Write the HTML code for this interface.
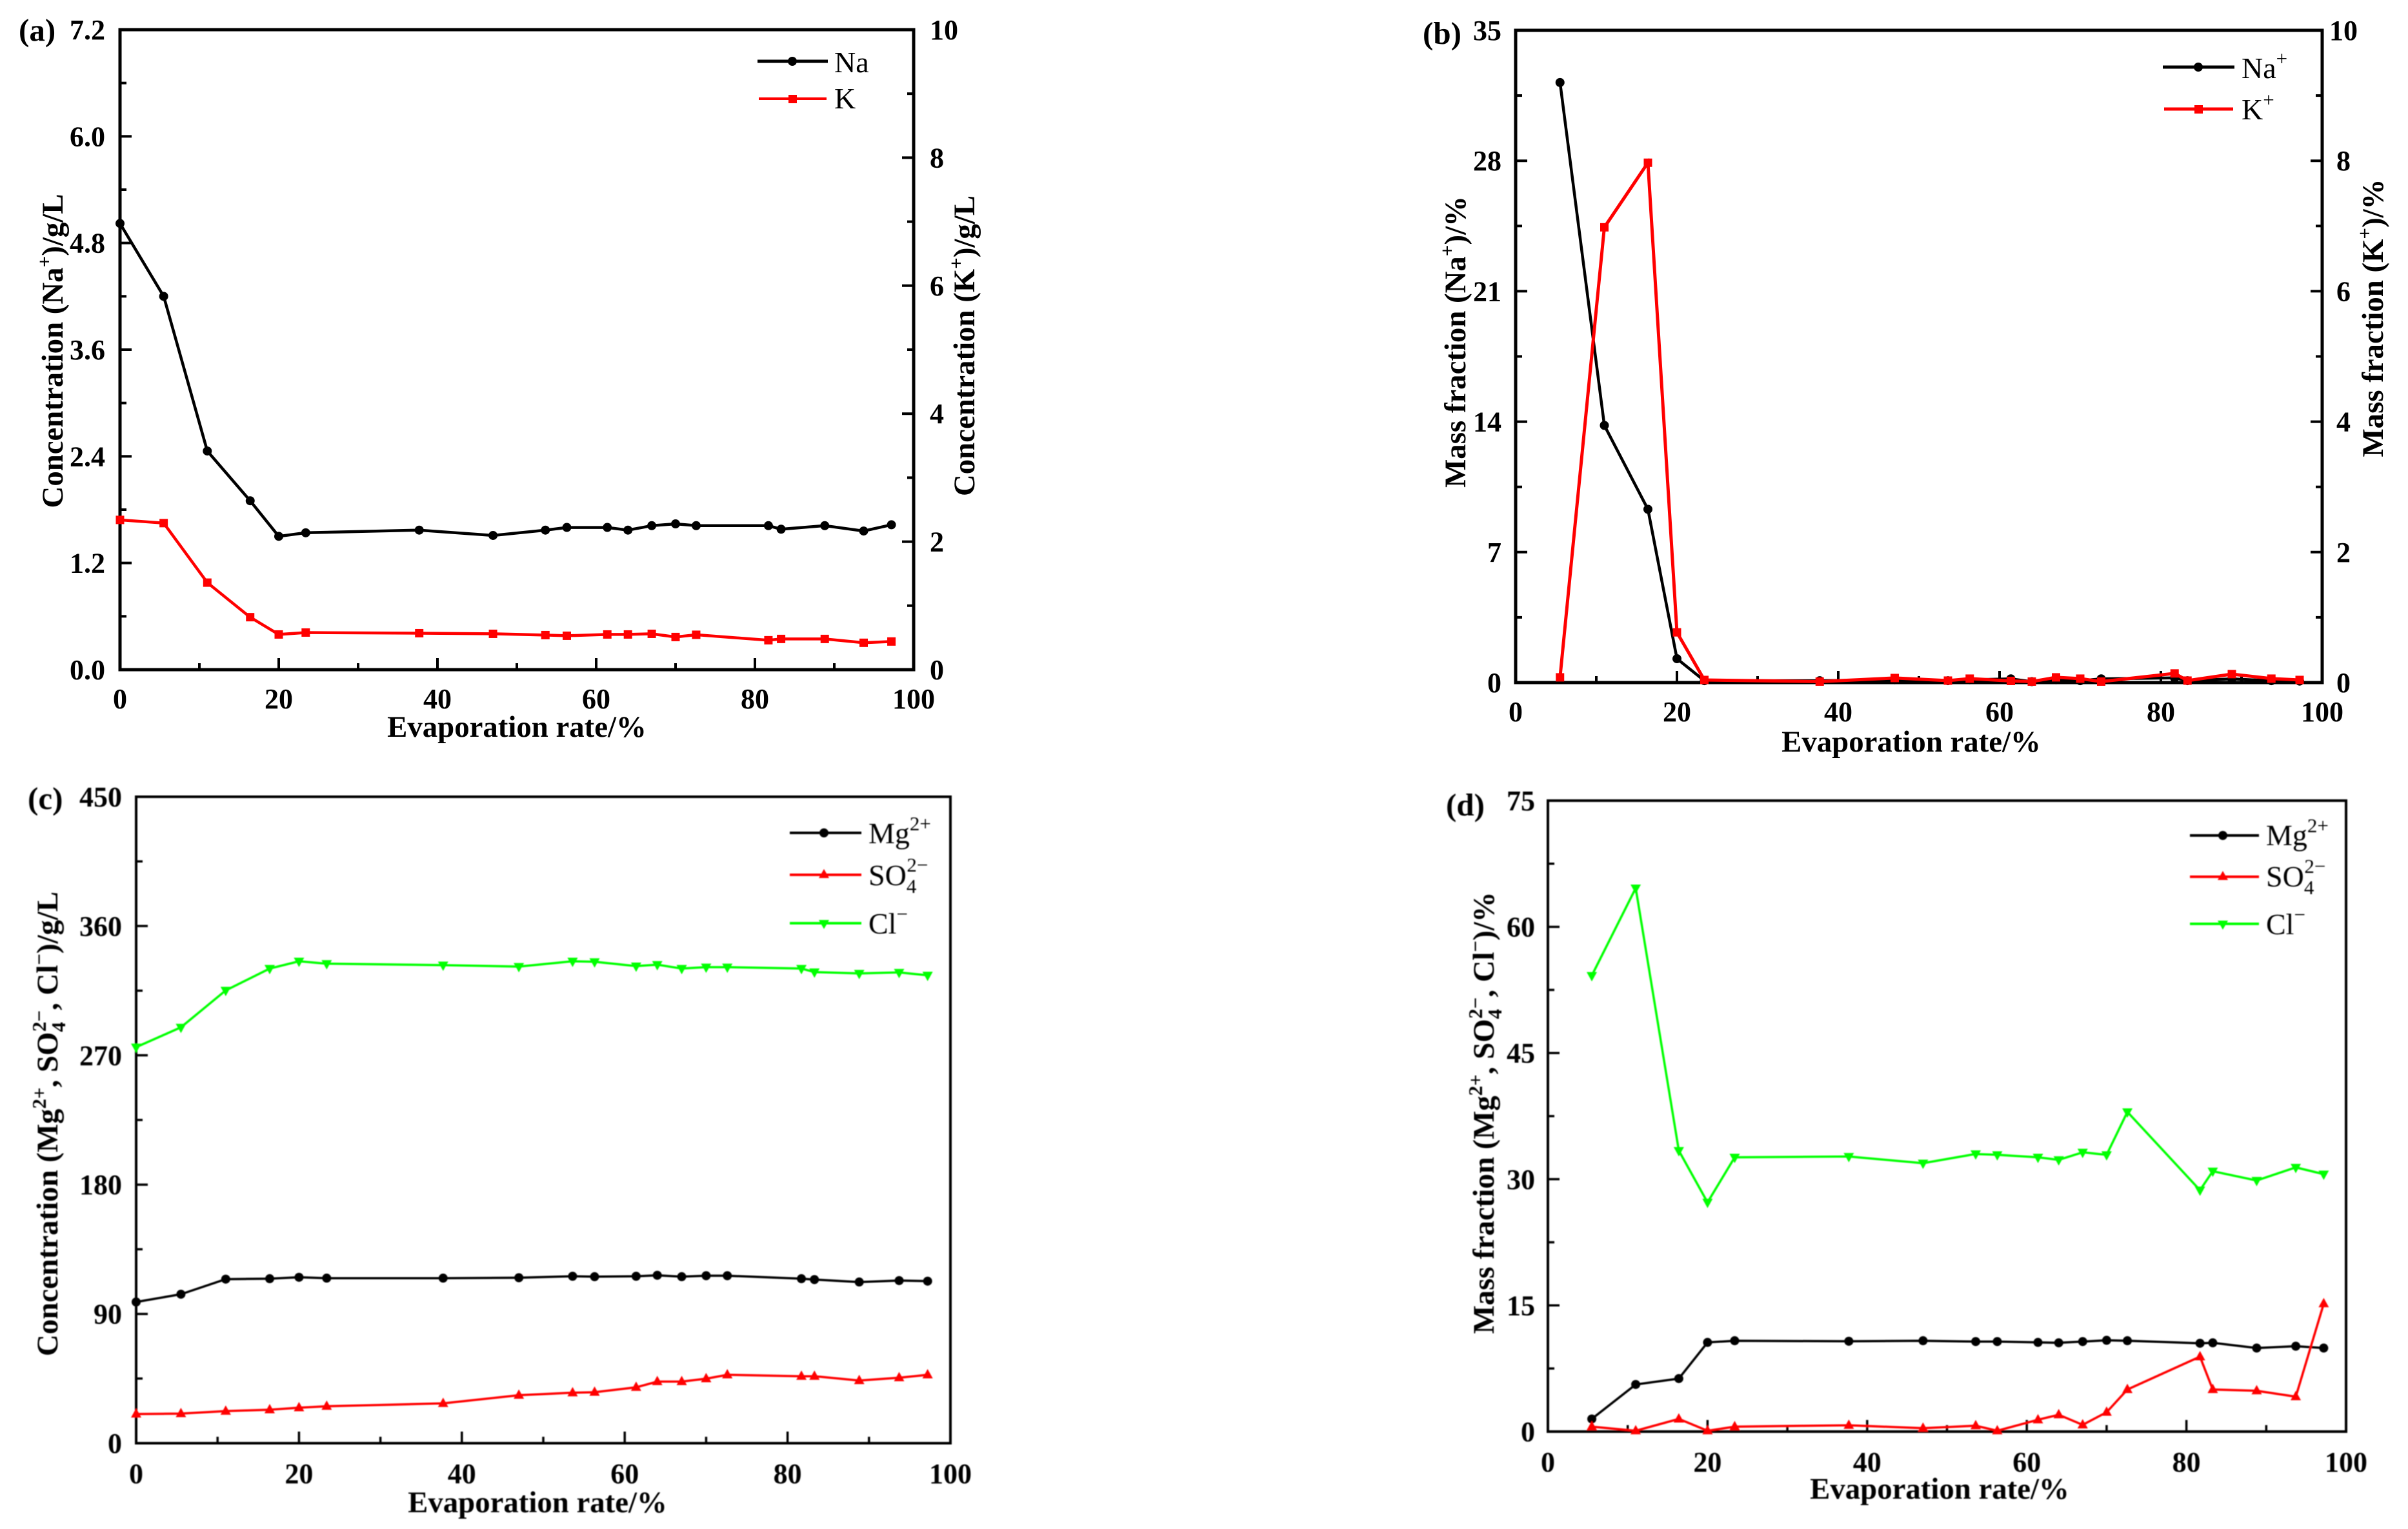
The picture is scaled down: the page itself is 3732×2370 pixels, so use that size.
<!DOCTYPE html>
<html lang="en">
<head>
<meta charset="utf-8">
<title>Evaporation rate charts</title>
<style>
html,body{margin:0;padding:0;background:#fff;}
svg{display:block;font-family:"Liberation Serif",serif;}
.title{font-weight:bold;font-size:46.8px;fill:#000;}
.panel{font-weight:bold;font-size:49px;fill:#000;}
.leg{font-size:46px;fill:#000;}
</style>
</head>
<body>
<svg id="fig" xmlns="http://www.w3.org/2000/svg" width="3732" height="2370" viewBox="0 0 3732 2370">
<defs><filter id="soft" x="-5%" y="-5%" width="110%" height="110%"><feGaussianBlur stdDeviation="0.9"/></filter></defs>
<rect x="0" y="0" width="3732" height="2370" fill="#fff"/>

<g id="panel-a">
<text class="panel" x="29" y="63">(a)</text>
<text class="title" x="801" y="1142" text-anchor="middle">Evaporation rate/%</text>
<text class="title" transform="translate(97,544) rotate(-90)" text-anchor="middle">Concentration (Na<tspan font-size="31" dy="-18">+</tspan><tspan dy="18">)/g/L</tspan></text>
<text class="title" transform="translate(1510,536) rotate(-90)" text-anchor="middle">Concentration (K<tspan font-size="31" dy="-18">+</tspan><tspan dy="18">)/g/L</tspan></text>
<g>
<line x1="1174" x2="1283" y1="95" y2="95" stroke="#000" stroke-width="5"/>
<circle cx="1228" cy="95" r="7" fill="#000"/>
<text class="leg" x="1293" y="112">Na</text>
<line x1="1176" x2="1281" y1="153" y2="153" stroke="#f00" stroke-width="4"/>
<rect x="1222" y="147" width="13" height="13" fill="#f00"/>
<text class="leg" x="1293" y="168">K</text>
</g>
</g>

<g id="panel-b">
<text class="panel" x="2205" y="68">(b)</text>
<text class="title" x="2962" y="1165" text-anchor="middle">Evaporation rate/%</text>
<text class="title" transform="translate(2271,530) rotate(-90)" text-anchor="middle">Mass fraction (Na<tspan font-size="31" dy="-18">+</tspan><tspan dy="18">)/%</tspan></text>
<text class="title" transform="translate(3693,493) rotate(-90)" text-anchor="middle">Mass fraction (K<tspan font-size="31" dy="-18">+</tspan><tspan dy="18">)/%</tspan></text>
<g>
<line x1="3352" x2="3463" y1="104" y2="104" stroke="#000" stroke-width="5"/>
<circle cx="3407" cy="104" r="7" fill="#000"/>
<text class="leg" x="3474" y="121">Na<tspan font-size="31" dy="-20">+</tspan></text>
<line x1="3354" x2="3461" y1="169" y2="169" stroke="#f00" stroke-width="5"/>
<rect x="3401" y="163" width="13" height="13" fill="#f00"/>
<text class="leg" x="3474" y="185">K<tspan font-size="31" dy="-20">+</tspan></text>
</g>
</g>

<g filter="url(#soft)">
<g id="panel-c">
<text class="panel" x="43" y="1254">(c)</text>
<text class="title" x="833" y="2344" text-anchor="middle">Evaporation rate/%</text>
<text class="title" transform="translate(89,1742) rotate(-90)" text-anchor="middle">Concentration (Mg<tspan font-size="31" dy="-18">2+</tspan><tspan dy="18">, SO</tspan><tspan font-size="31" dy="12">4</tspan><tspan font-size="31" dx="-15" dy="-30">2−</tspan><tspan dy="18">, Cl</tspan><tspan font-size="31" dy="-18">−</tspan><tspan dy="18">)/g/L</tspan></text>
<g>
<line x1="1224" x2="1335" y1="1291" y2="1291" stroke="#000" stroke-width="4"/>
<circle cx="1277" cy="1291" r="7" fill="#000"/>
<text class="leg" x="1346" y="1307">Mg<tspan font-size="31" dy="-20">2+</tspan></text>
<line x1="1224" x2="1335" y1="1356" y2="1356" stroke="#f00" stroke-width="4"/>
<polygon points="1277,1347 1285,1361 1269,1361" fill="#f00"/>
<text class="leg" x="1346" y="1372">SO<tspan font-size="31" dy="12">4</tspan><tspan font-size="31" dx="-15" dy="-33">2−</tspan></text>
<line x1="1224" x2="1335" y1="1431" y2="1431" stroke="#0f0" stroke-width="4"/>
<polygon points="1277,1440 1285,1426 1269,1426" fill="#0f0"/>
<text class="leg" x="1346" y="1447">Cl<tspan font-size="31" dy="-20">−</tspan></text>
</g>
</g>

<g id="panel-d">
<text class="panel" x="2241" y="1264">(d)</text>
<text class="title" x="3006" y="2323" text-anchor="middle">Evaporation rate/%</text>
<text class="title" transform="translate(2315,1725) rotate(-90)" text-anchor="middle">Mass fraction (Mg<tspan font-size="31" dy="-18">2+</tspan><tspan dy="18">, SO</tspan><tspan font-size="31" dy="12">4</tspan><tspan font-size="31" dx="-15" dy="-30">2−</tspan><tspan dy="18">, Cl</tspan><tspan font-size="31" dy="-18">−</tspan><tspan dy="18">)/%</tspan></text>
<g>
<line x1="3394" x2="3501" y1="1295" y2="1295" stroke="#000" stroke-width="4"/>
<circle cx="3445" cy="1295" r="7" fill="#000"/>
<text class="leg" x="3512" y="1310">Mg<tspan font-size="31" dy="-20">2+</tspan></text>
<line x1="3394" x2="3501" y1="1359" y2="1359" stroke="#f00" stroke-width="4"/>
<polygon points="3445,1350 3453,1364 3437,1364" fill="#f00"/>
<text class="leg" x="3512" y="1374">SO<tspan font-size="31" dy="12">4</tspan><tspan font-size="31" dx="-15" dy="-33">2−</tspan></text>
<line x1="3394" x2="3501" y1="1432" y2="1432" stroke="#0f0" stroke-width="4"/>
<polygon points="3445,1441 3453,1427 3437,1427" fill="#0f0"/>
<text class="leg" x="3512" y="1448">Cl<tspan font-size="31" dy="-20">−</tspan></text>
</g>
</g>
</g>
</svg>

<script>
// ---- Data ----
const evapRateFull = [0, 5.5, 11, 16.4, 20, 23.4, 37.7, 47, 53.6, 56.3, 61.4, 64, 67, 70, 72.6, 81.7, 83.3, 88.8, 93.7, 97.2];
const evapRateNoZero = [5.5, 11, 16.4, 20, 23.4, 37.7, 47, 53.6, 56.3, 61.4, 64, 67, 70, 72.6, 81.7, 83.3, 88.8, 93.7, 97.2];

const xTickLabels = ['0', '20', '40', '60', '80', '100'];
const aLeftTickLabels = ['0.0', '1.2', '2.4', '3.6', '4.8', '6.0', '7.2'];
const aRightTickLabels = ['0', '2', '4', '6', '8', '10'];
const bLeftTickLabels = ['0', '7', '14', '21', '28', '35'];
const bRightTickLabels = ['0', '2', '4', '6', '8', '10'];
const cTickLabels = ['0', '90', '180', '270', '360', '450'];
const dTickLabels = ['0', '15', '30', '45', '60', '75'];

const aNa = [5.02, 4.2, 2.46, 1.9, 1.5, 1.54, 1.57, 1.51, 1.57, 1.6, 1.6, 1.57, 1.62, 1.64, 1.62, 1.62, 1.58, 1.62, 1.56, 1.63];
const aK = [2.34, 2.29, 1.36, 0.82, 0.55, 0.58, 0.57, 0.56, 0.54, 0.53, 0.55, 0.55, 0.56, 0.51, 0.545, 0.46, 0.48, 0.48, 0.42, 0.44];

const bNa = [32.2, 13.8, 9.3, 1.28, 0.1, 0.1, 0.15, 0.1, 0.15, 0.2, 0.05, 0.15, 0.1, 0.2, 0.25, 0.1, 0.2, 0.1, 0.08];
const bK = [0.08, 6.98, 7.97, 0.77, 0.04, 0.015, 0.07, 0.03, 0.06, 0.025, 0.015, 0.08, 0.06, 0.015, 0.14, 0.03, 0.13, 0.06, 0.04];

const cMg = [98.3, 103.7, 114.2, 114.5, 115.5, 114.9, 114.9, 115.2, 116.2, 115.9, 116.2, 116.9, 115.9, 116.6, 116.6, 114.5, 113.9, 112.2, 113.2, 112.8];
const cSO4 = [20.3, 20.6, 22.3, 23.3, 24.7, 25.7, 27.7, 33.4, 35.1, 35.5, 38.9, 42.9, 42.9, 44.9, 47.6, 46.6, 46.6, 43.6, 45.6, 47.6];
const cCl = [275.7, 289.5, 315.2, 330.4, 335.5, 333.8, 332.8, 331.8, 335.5, 335.1, 332.1, 333.1, 330.4, 331.4, 331.4, 330.4, 328, 327, 327.7, 325.7];

const dMg = [1.5, 5.6, 6.3, 10.6, 10.8, 10.74, 10.8, 10.7, 10.7, 10.6, 10.55, 10.7, 10.85, 10.8, 10.5, 10.55, 9.93, 10.15, 9.93];
const dSO4 = [0.58, 0.1, 1.5, 0.1, 0.58, 0.75, 0.4, 0.7, 0.1, 1.4, 2.0, 0.8, 2.3, 5.0, 8.9, 5.0, 4.85, 4.15, 15.2];
const dCl = [54.2, 64.6, 33.4, 27.25, 32.6, 32.7, 31.9, 33, 32.9, 32.6, 32.3, 33.2, 32.9, 38, 28.7, 30.95, 29.85, 31.4, 30.6];

// ---- Drawing ----
const NS = 'http://www.w3.org/2000/svg';
function el(tag, attrs, parent) {
  const e = document.createElementNS(NS, tag);
  for (const k in attrs) e.setAttribute(k, attrs[k]);
  parent.appendChild(e);
  return e;
}
function linear(d1, r0, r1) {
  return function (v) { return r0 + (v / d1) * (r1 - r0); };
}
function tickLabel(parent, x, y, anchor, str, name) {
  const t = el('text', { x: x, y: y, 'text-anchor': anchor, 'font-size': 44, 'font-weight': 'bold', fill: '#000' }, parent);
  
  
  t.textContent = str;
}
function tickMark(parent, x1, y1, x2, y2, sw, name) {
  const l = el('line', { x1: x1, y1: y1, x2: x2, y2: y2, stroke: '#000', 'stroke-width': sw }, parent);
  
  
}
function drawFrame(g, b) {
  const r = el('rect', { x: b.l, y: b.t, width: b.r - b.l, height: b.b - b.t, fill: 'none', stroke: '#000', 'stroke-width': b.frame }, g);
  
  
}
function drawXAxis(g, b, labels, sx) {
  const sw = b.tick;
  labels.forEach(function (lab, i) {
    const v = parseFloat(lab);
    const x = sx(v);
    tickMark(g, x, b.b, x, b.b - 18, sw, 'x-major-tick');
    tickLabel(g, x, b.xLabelY, 'middle', lab, 'x-tick-label');
    if (i < labels.length - 1) {
      const mx = sx((v + parseFloat(labels[i + 1])) / 2);
      tickMark(g, mx, b.b, mx, b.b - 10, sw, 'x-minor-tick');
    }
  });
}
function drawYAxis(g, b, labels, sy, axisX, dir, labelX, anchor, nameBase) {
  const sw = b.tick;
  labels.forEach(function (lab, i) {
    const v = parseFloat(lab);
    const y = sy(v);
    tickMark(g, axisX, y, axisX + dir * 18, y, sw, nameBase + '-major-tick');
    tickLabel(g, labelX, y + 15, anchor, lab, nameBase + '-tick-label');
    if (i < labels.length - 1) {
      const my = sy((v + parseFloat(labels[i + 1])) / 2);
      tickMark(g, axisX, my, axisX + dir * 10, my, sw, nameBase + '-minor-tick');
    }
  });
}
function drawSeries(g, xs, ys, sx, sy, color, width, shape, name) {
  const pts = xs.map(function (x, i) { return sx(x).toFixed(1) + ',' + sy(ys[i]).toFixed(1); }).join(' ');
  const line = el('polyline', { points: pts, fill: 'none', stroke: color, 'stroke-width': width, 'stroke-linejoin': 'miter' }, g);
  
  
  xs.forEach(function (x, i) {
    const px = sx(x), py = sy(ys[i]);
    let m;
    if (shape === 'circle') {
      m = el('circle', { cx: px, cy: py, r: 7, fill: color }, g);
    } else if (shape === 'square') {
      m = el('rect', { x: px - 6.5, y: py - 6.5, width: 13, height: 13, fill: color }, g);
    } else if (shape === 'up') {
      m = el('polygon', { points: px + ',' + (py - 9) + ' ' + (px + 8) + ',' + (py + 5.5) + ' ' + (px - 8) + ',' + (py + 5.5), fill: color }, g);
    } else {
      m = el('polygon', { points: px + ',' + (py + 9) + ' ' + (px + 8) + ',' + (py - 5.5) + ' ' + (px - 8) + ',' + (py - 5.5), fill: color }, g);
    }
    
    
  });
}

// Panel (a)
(function () {
  const g = document.getElementById('panel-a');
  const b = { l: 186, r: 1416, t: 46, b: 1038, frame: 5, tick: 4, xLabelY: 1098 };
  const sx = linear(100, b.l, b.r);
  const syL = linear(7.2, b.b, b.t);
  const syR = linear(10, b.b, b.t);
  drawFrame(g, b);
  drawXAxis(g, b, xTickLabels, sx);
  drawYAxis(g, b, aLeftTickLabels, syL, b.l, 1, 163, 'end', 'left-y');
  drawYAxis(g, b, aRightTickLabels, syR, b.r, -1, 1441, 'start', 'right-y');
  drawSeries(g, evapRateFull, aNa, sx, syL, '#000', 4.5, 'circle', 'na-series');
  drawSeries(g, evapRateFull, aK, sx, syR, '#f00', 4.5, 'square', 'k-series');
})();

// Panel (b)
(function () {
  const g = document.getElementById('panel-b');
  const b = { l: 2349, r: 3599, t: 47, b: 1058, frame: 5, tick: 4, xLabelY: 1118 };
  const sx = linear(100, b.l, b.r);
  const syL = linear(35, b.b, b.t);
  const syR = linear(10, b.b, b.t);
  drawFrame(g, b);
  drawXAxis(g, b, xTickLabels, sx);
  drawYAxis(g, b, bLeftTickLabels, syL, b.l, 1, 2327, 'end', 'left-y');
  drawYAxis(g, b, bRightTickLabels, syR, b.r, -1, 3632, 'middle', 'right-y');
  drawSeries(g, evapRateNoZero, bNa, sx, syL, '#000', 4.5, 'circle', 'na-series');
  drawSeries(g, evapRateNoZero, bK, sx, syR, '#f00', 5, 'square', 'k-series');
})();

// Panel (c)
(function () {
  const g = document.getElementById('panel-c');
  const b = { l: 211, r: 1473, t: 1235, b: 2237, frame: 4, tick: 3.5, xLabelY: 2299 };
  const sx = linear(100, b.l, b.r);
  const sy = linear(450, b.b, b.t);
  drawFrame(g, b);
  drawXAxis(g, b, xTickLabels, sx);
  drawYAxis(g, b, cTickLabels, sy, b.l, 1, 189, 'end', 'y');
  drawSeries(g, evapRateFull, cMg, sx, sy, '#000', 3.5, 'circle', 'mg-series');
  drawSeries(g, evapRateFull, cSO4, sx, sy, '#f00', 3.5, 'up', 'so4-series');
  drawSeries(g, evapRateFull, cCl, sx, sy, '#0f0', 3.5, 'down', 'cl-series');
})();

// Panel (d)
(function () {
  const g = document.getElementById('panel-d');
  const b = { l: 2399, r: 3636, t: 1241, b: 2219, frame: 4, tick: 3.5, xLabelY: 2281 };
  const sx = linear(100, b.l, b.r);
  const sy = linear(75, b.b, b.t);
  drawFrame(g, b);
  drawXAxis(g, b, xTickLabels, sx);
  drawYAxis(g, b, dTickLabels, sy, b.l, 1, 2379, 'end', 'y');
  drawSeries(g, evapRateNoZero, dMg, sx, sy, '#000', 3.5, 'circle', 'mg-series');
  drawSeries(g, evapRateNoZero, dSO4, sx, sy, '#f00', 3.5, 'up', 'so4-series');
  drawSeries(g, evapRateNoZero, dCl, sx, sy, '#0f0', 3.5, 'down', 'cl-series');
})();
</script>
</body>
</html>
